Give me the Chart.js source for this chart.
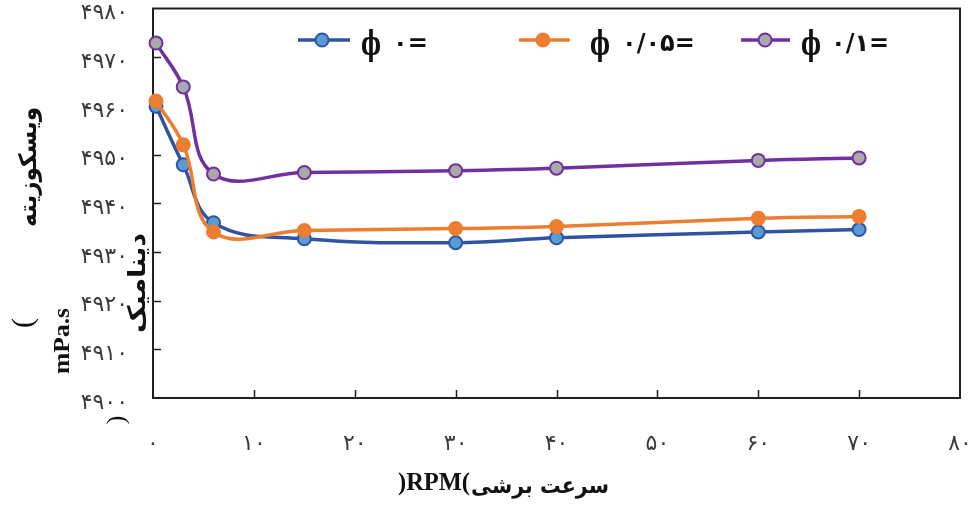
<!DOCTYPE html>
<html lang="fa">
<head>
<meta charset="utf-8">
<title>ویسکوزیته دینامیک</title>
<script src="https://cdn.jsdelivr.net/npm/chart.js@4/dist/chart.umd.min.js"></script>
<style>
  html, body { margin: 0; padding: 0; background: #ffffff; }
  #wrap { position: relative; width: 977px; height: 517px; }
</style>
</head>
<body>
<div id="wrap"><canvas id="chart"></canvas></div>
<script>
// Shear rate (RPM) at which the viscosity was measured
const shearRates = [0.3, 3, 6, 15, 30, 40, 60, 70];

// Dynamic viscosity (mPa.s) for each volume fraction
const viscPhi0   = [4959.9, 4947.9, 4936.0, 4932.7, 4931.9, 4932.9, 4934.1, 4934.6];
const viscPhi005 = [4961.0, 4952.0, 4934.1, 4934.4, 4934.8, 4935.2, 4936.9, 4937.3];
const viscPhi01  = [4972.9, 4963.9, 4946.0, 4946.3, 4946.7, 4947.2, 4948.8, 4949.3];

// Series names and axis tick labels (Persian digits)
const seriesNames = ['ϕ ۰=', 'ϕ ۰/۰۵=', 'ϕ ۰/۱='];
const xTickLabels = ['۰', '۱۰', '۲۰', '۳۰', '۴۰', '۵۰', '۶۰', '۷۰', '۸۰'];
const yTickLabels = ['۴۹۰۰', '۴۹۱۰', '۴۹۲۰', '۴۹۳۰', '۴۹۴۰', '۴۹۵۰', '۴۹۶۰', '۴۹۷۰', '۴۹۸۰'];

const INK = '#231f20';
const styles = [
  { line: '#3053a3', fill: '#5b9bd5' },
  { line: '#ed7d31', fill: '#ed7d31' },
  { line: '#7030a0', fill: '#a9a9a9' }
];
const seriesValues = [viscPhi0, viscPhi005, viscPhi01];

const datasets = seriesValues.map((vals, i) => ({
  label: seriesNames[i],
  data: shearRates.map((x, k) => ({ x: x, y: vals[k] })),
  borderColor: styles[i].line,
  backgroundColor: styles[i].fill,
  pointBackgroundColor: styles[i].fill,
  pointBorderColor: styles[i].line,
  pointBorderWidth: 2,
  pointRadius: 6.5,
  borderWidth: 3.5,
  tension: 0.4,
  order: 2 - i,
  clip: false
}));

// Box around the plot area with inward tick marks
const framePlugin = {
  id: 'frame',
  beforeDatasetsDraw(chart) {
    const { ctx, chartArea: a, scales: { x, y } } = chart;
    ctx.save();
    ctx.strokeStyle = INK;
    ctx.lineWidth = 2;
    ctx.strokeRect(a.left, a.top, a.right - a.left, a.bottom - a.top);
    ctx.lineWidth = 1.5;
    ctx.beginPath();
    y.ticks.forEach(t => {
      if (t.value === y.min || t.value === y.max) return;
      const py = Math.round(y.getPixelForValue(t.value)) + 0.5;
      ctx.moveTo(a.left, py);
      ctx.lineTo(a.left + 8, py);
    });
    x.ticks.forEach(t => {
      if (t.value === x.min || t.value === x.max) return;
      const px = Math.round(x.getPixelForValue(t.value)) + 0.5;
      ctx.moveTo(px, a.bottom);
      ctx.lineTo(px, a.bottom - 8);
    });
    ctx.stroke();
    ctx.restore();
  }
};

function putText(ctx, text, cx, cy, width, font, rot, dir) {
  ctx.save();
  ctx.translate(cx, cy);
  ctx.rotate(rot);
  ctx.font = font;
  ctx.direction = dir;
  ctx.textAlign = 'center';
  ctx.textBaseline = 'middle';
  if (width) {
    const m = ctx.measureText(text).width;
    ctx.scale(width / m, 1);
  }
  ctx.fillText(text, 0, 0);
  ctx.restore();
}

// Axis titles and the in-plot legend
const annotatePlugin = {
  id: 'annotate',
  afterDraw(chart) {
    const ctx = chart.ctx;
    const up = -Math.PI / 2;
    ctx.save();
    ctx.fillStyle = '#111111';
    const fa = 'bold 24px "DejaVu Sans", sans-serif';
    const serif = 'bold 24px "Liberation Serif", "DejaVu Serif", serif';

    // y-axis title pieces
    putText(ctx, 'ویسکوزیته', 30, 167, 120, fa, up, 'rtl');
    putText(ctx, 'دینامیک', 139, 283, 100, fa, up, 'rtl');
    putText(ctx, 'mPa.s', 63, 341, 66, serif, up, 'ltr');
    putText(ctx, '(', 24, 323, 0, '30px "Liberation Serif", serif', up, 'ltr');
    putText(ctx, ')', 117, 420, 0, '26px "Liberation Serif", serif', up, 'ltr');

    // x-axis title pieces
    putText(ctx, ')RPM(', 434, 483, 72, 'bold 26px "Liberation Serif", serif', 0, 'ltr');
    putText(ctx, 'سرعت برشی', 540, 487, 138, 'bold 22px "DejaVu Sans", sans-serif', 0, 'rtl');

    // legend
    const items = [
      { x1: 298, x2: 350, mx: 322, phiX: 371, restX: 393, y: 40 },
      { x1: 519, x2: 570, mx: 543, phiX: 600, restX: 622, y: 40 },
      { x1: 741, x2: 790, mx: 765, phiX: 811, restX: 831, y: 40 }
    ];
    items.forEach((it, i) => {
      const ds = chart.data.datasets[i];
      ctx.strokeStyle = ds.borderColor;
      ctx.lineWidth = 3.5;
      ctx.beginPath();
      ctx.moveTo(it.x1, it.y);
      ctx.lineTo(it.x2, it.y);
      ctx.stroke();
      ctx.beginPath();
      ctx.arc(it.mx, it.y, 6.5, 0, Math.PI * 2);
      ctx.fillStyle = ds.pointBackgroundColor;
      ctx.fill();
      ctx.lineWidth = 2;
      ctx.stroke();

      const label = ds.label;
      const sp = label.indexOf(' ');
      const phi = label.slice(0, sp);
      const rest = label.slice(sp + 1);
      ctx.fillStyle = '#111111';
      putText(ctx, phi, it.phiX, it.y + 6, 20, 'bold 34px "DejaVu Serif", serif', 0, 'ltr');
      ctx.textBaseline = 'middle';
      ctx.direction = 'ltr';
      ctx.textAlign = 'left';
      ctx.font = 'bold 24px "DejaVu Sans", sans-serif';
      ctx.letterSpacing = '2px';
      ctx.fillText(rest, it.restX, it.y + 5);
      ctx.letterSpacing = '0px';
    });
    ctx.restore();
  }
};

new Chart(document.getElementById('chart'), {
  type: 'line',
  data: { datasets: datasets },
  plugins: [framePlugin, annotatePlugin],
  options: {
    responsive: true,
    maintainAspectRatio: false,
    animation: false,
    layout: { padding: { top: 6, right: 17, left: 0, bottom: 0 } },
    plugins: { legend: { display: false }, tooltip: { enabled: false } },
    scales: {
      x: {
        type: 'linear',
        min: 0,
        max: 80,
        grid: { display: true, drawOnChartArea: false, drawTicks: false },
        border: { display: false },
        ticks: {
          stepSize: 10,
          padding: 33,
          color: '#3a3a3a',
          font: { family: '"DejaVu Sans", sans-serif', size: 22 },
          maxRotation: 0,
          callback: (v, i) => xTickLabels[i]
        },
        afterFit: s => { s.height = 119; s.paddingLeft = 0; s.paddingRight = 0; }
      },
      y: {
        type: 'linear',
        min: 4900,
        max: 4980,
        grid: { display: true, drawOnChartArea: false, drawTicks: false },
        border: { display: false },
        ticks: {
          stepSize: 10,
          padding: 25,
          labelOffset: 5,
          color: '#3a3a3a',
          font: { family: '"DejaVu Sans", sans-serif', size: 22 },
          callback: (v, i) => yTickLabels[i]
        },
        afterFit: s => { s.width = 153; s.paddingTop = 0; s.paddingBottom = 0; }
      }
    }
  }
});
</script>
</body>
</html>
